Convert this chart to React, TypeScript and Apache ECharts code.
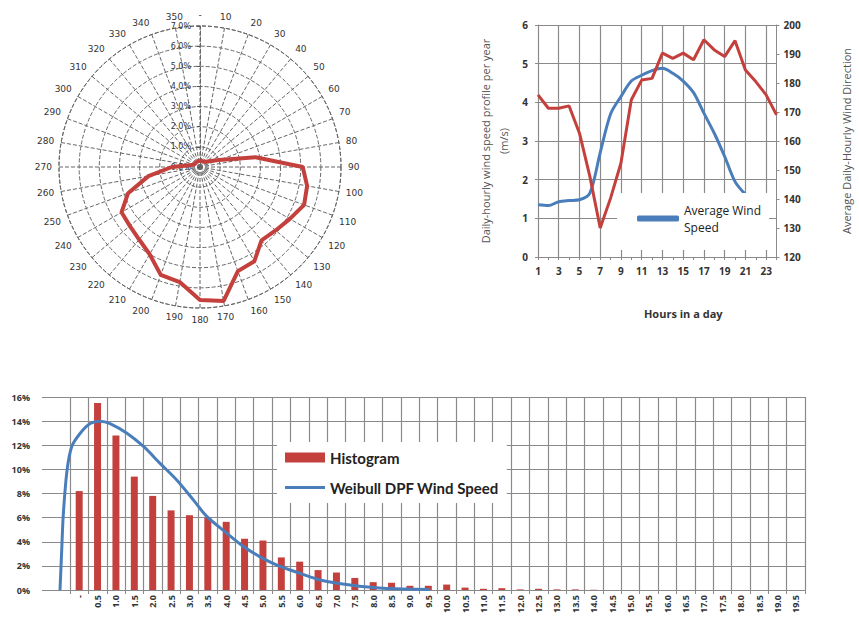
import React, { useEffect, useRef } from 'react';
import * as echarts from 'echarts';

// ---- Wind rose (polar) ----
const windDirections = [0, 10, 20, 30, 40, 50, 60, 70, 80, 90, 100, 110, 120, 130, 140, 150, 160, 170, 180, 190, 200, 210, 220, 230, 240, 250, 260, 270, 280, 290, 300, 310, 320, 330, 340, 350];
const windDirectionFrequency = [0.3, 0.3, 0.3, 0.3, 0.35, 0.4, 0.6, 1.0, 2.8, 5.1, 5.4, 5.5, 5.15, 4.9, 4.75, 5.4, 5.5, 6.75, 6.6, 5.8, 5.7, 5.0, 4.7, 4.55, 4.5, 3.8, 2.6, 1.4, 0.5, 0.35, 0.3, 0.3, 0.3, 0.3, 0.3, 0.3];

// ---- Daily-hourly profile ----
const hours = ['1', '2', '3', '4', '5', '6', '7', '8', '9', '10', '11', '12', '13', '14', '15', '16', '17', '18', '19', '20', '21', '22', '23', '24'];
const avgWindSpeed = [1.35, 1.33, 1.43, 1.46, 1.48, 1.65, 2.7, 3.7, 4.15, 4.55, 4.7, 4.82, 4.88, 4.75, 4.55, 4.25, 3.72, 3.2, 2.6, 1.95, 1.62];
const avgWindDirection = [175.9, 171.3, 171.3, 172.1, 162.7, 147.8, 130, 140.3, 152.4, 174.2, 181, 181.6, 190.3, 188.5, 190.3, 188, 194.9, 191.4, 189.1, 194.6, 184.5, 180.5, 175.9, 169];

// ---- Histogram + Weibull ----
const histCategories = ['-', '0.5', '1.0', '1.5', '2.0', '2.5', '3.0', '3.5', '4.0', '4.5', '5.0', '5.5', '6.0', '6.5', '7.0', '7.5', '8.0', '8.5', '9.0', '9.5', '10.0', '10.5', '11.0', '11.5', '12.0', '12.5', '13.0', '13.5', '14.0', '14.5', '15.0', '15.5', '16.0', '16.5', '17.0', '17.5', '18.0', '18.5', '19.0', '19.5'];
const histogramFrequency = [8.2, 15.5, 12.8, 9.4, 7.8, 6.6, 6.2, 6.0, 5.65, 4.25, 4.1, 2.7, 2.35, 1.65, 1.45, 1.0, 0.65, 0.6, 0.35, 0.35, 0.45, 0.2, 0.1, 0.15, 0.05, 0.1, 0.05, 0.05, 0.02, 0, 0, 0, 0, 0, 0, 0, 0, 0, 0, 0];
const weibullSpeed = [-0.51, -0.46, -0.42, -0.32, -0.19, 0.04, 0.31, 0.58, 0.85, 1.31, 1.76, 2.21, 2.67, 3.12, 3.48, 4.03, 4.48, 4.93, 5.39, 6.02, 6.56, 7.38, 8.28, 9.55];
const weibullDensity = [0, 3.6, 6.3, 9.9, 11.9, 13.0, 13.8, 14.0, 13.8, 13.0, 11.9, 10.5, 9.1, 7.45, 6.1, 4.7, 3.6, 2.75, 2.07, 1.38, 0.83, 0.41, 0.14, 0.05];

const RED = '#c4403c';
const BLUE = '#4a7ebb';
const GRID = '#8a8a8a';

export default function App() {
  const ref = useRef<HTMLDivElement>(null);
  useEffect(() => {
    const chart = echarts.init(ref.current!, null, { renderer: 'svg' });
    const roseData = windDirections.map((d, i) => [windDirectionFrequency[i], d]);
    roseData.push([windDirectionFrequency[0], 360]);
    const option: any = {
      animation: false,
      backgroundColor: '#fff',
      textStyle: { fontFamily: 'Open Sans' },
      polar: { center: [200, 167], radius: 141 },
      angleAxis: {
        type: 'value', min: 0, max: 360, interval: 10, startAngle: 90, clockwise: true,
        axisLine: { lineStyle: { color: '#666', type: 'dashed', width: 1 } },
        axisTick: { show: false },
        splitLine: { show: true, lineStyle: { color: '#666', type: 'dashed', width: 1 } },
        axisLabel: {
          fontFamily: 'DejaVu Sans', fontSize: 9, color: '#333', margin: 7,
          formatter: (v: number) => (v === 0 ? '-' : v === 360 ? '' : String(v)),
        },
      },
      radiusAxis: {
        min: 0, max: 7, interval: 1,
        axisLine: { lineStyle: { color: '#666', type: 'dashed', width: 1 } },
        axisTick: { show: true, length: 3, lineStyle: { color: '#555' } },
        axisLabel: { fontFamily: 'DejaVu Sans', fontSize: 8, color: '#333', margin: 9, formatter: (v: number) => v.toFixed(1) + '%' },
        splitLine: { show: true, lineStyle: { color: '#666', type: 'dashed', width: 1 } },
      },
      grid: [
        { left: 538, top: 25, width: 238.5, height: 232 },
        { left: 42, top: 397, width: 763, height: 193 },
        { left: 70, top: 397, width: 735, height: 193 },
      ],
      xAxis: [
        {
          gridIndex: 0, type: 'category', data: hours, boundaryGap: false,
          name: 'Hours in a day', nameLocation: 'middle', nameGap: 51,
          nameTextStyle: { fontSize: 11, fontWeight: 'bold', color: '#333', padding: [0, 0, 0, 52] },
          axisLine: { lineStyle: { color: GRID } },
          axisTick: { show: true, interval: 0, length: 3, lineStyle: { color: GRID } },
          axisLabel: { interval: 1, fontSize: 10, fontWeight: 'bold', color: '#333', margin: 9 },
          splitLine: { show: true, interval: 1, lineStyle: { color: GRID, width: 1.2 } },
        },
        { gridIndex: 1, type: 'value', min: -1, max: 19.75, show: false },
        {
          gridIndex: 2, type: 'category', data: histCategories, boundaryGap: true,
          axisLine: { lineStyle: { color: GRID } },
          axisTick: { show: true, length: 4, lineStyle: { color: GRID } },
          axisLabel: { interval: 0, rotate: 90, fontSize: 9, fontWeight: 'bold', color: '#333', margin: 5 },
          splitLine: { show: true, interval: 0, lineStyle: { color: GRID, width: 1.2 } },
        },
      ],
      yAxis: [
        {
          gridIndex: 0, type: 'value', min: 0, max: 6, interval: 1, position: 'left',
          name: 'Daily-hourly wind speed profile per year\n(m/s)', nameLocation: 'middle', nameGap: 26, nameRotate: 90,
          nameTextStyle: { fontSize: 11, color: '#555', lineHeight: 18 },
          axisLine: { show: true, lineStyle: { color: GRID } },
          axisTick: { show: true, length: 3, lineStyle: { color: GRID } },
          axisLabel: { fontSize: 10, fontWeight: 'bold', color: '#333', margin: 10 },
          splitLine: { show: true, lineStyle: { color: GRID, width: 1.2 } },
        },
        {
          gridIndex: 0, type: 'value', min: 120, max: 200, interval: 10, position: 'right',
          name: 'Average Daily-Hourly Wind Direction', nameLocation: 'middle', nameGap: 64, nameRotate: 90,
          nameTextStyle: { fontSize: 11, color: '#555' },
          axisLine: { show: true, lineStyle: { color: GRID } },
          axisTick: { show: true, length: 3, lineStyle: { color: GRID } },
          axisLabel: { fontSize: 10, fontWeight: 'bold', color: '#333', margin: 7 },
          splitLine: { show: false },
        },
        {
          gridIndex: 1, type: 'value', min: 0, max: 16, interval: 2,
          axisLine: { show: false }, axisTick: { show: false },
          axisLabel: { fontSize: 9, fontWeight: 'bold', color: '#333', margin: 12, formatter: (v: number) => v + '%' },
          splitLine: { show: true, lineStyle: { color: GRID, width: 1.2 } },
        },
        { gridIndex: 2, type: 'value', min: 0, max: 16, interval: 2, show: false },
      ],
      legend: [
        {
          data: [{ name: 'Average Wind Speed', icon: 'roundRect' }],
          left: 617, top: 193, orient: 'vertical',
          backgroundColor: '#fff', padding: [0, 8, 6, 20],
          itemWidth: 42, itemHeight: 6, itemGap: 0,
          formatter: () => 'Average Wind\nSpeed',
          textStyle: { fontSize: 12, lineHeight: 17, color: '#222', padding: [17, 0, 0, 0] },
        },
        {
          data: [
            { name: 'Histogram', icon: 'rect' },
            { name: 'Weibull DPF Wind Speed', icon: 'path://M0,0 L40,0 L40,3.2 L0,3.2 Z' },
          ],
          left: 277, top: 442, orient: 'vertical',
          backgroundColor: '#fff', padding: [8, 8, 8, 8],
          itemWidth: 40, itemHeight: 10, itemGap: 15,
          textStyle: { fontFamily: 'Lato', fontSize: 15, fontWeight: 'bold', color: '#222' },
        },
      ],
      series: [
        {
          name: 'Wind Direction Frequency', type: 'line', coordinateSystem: 'polar', polarIndex: 0,
          data: roseData, symbol: 'none', lineStyle: { color: RED, width: 4 }, itemStyle: { color: RED },
        },
        {
          name: 'Average Wind Speed', type: 'line', xAxisIndex: 0, yAxisIndex: 0, data: avgWindSpeed,
          symbol: 'none', smooth: 0.3, lineStyle: { color: BLUE, width: 3 }, itemStyle: { color: BLUE },
        },
        {
          name: 'Average Wind Direction', type: 'line', xAxisIndex: 0, yAxisIndex: 1, data: avgWindDirection,
          symbol: 'none', lineStyle: { color: RED, width: 3 }, itemStyle: { color: RED },
        },
        {
          name: 'Histogram', type: 'bar', xAxisIndex: 2, yAxisIndex: 3, data: histogramFrequency,
          barWidth: 7, itemStyle: { color: RED },
        },
        {
          name: 'Weibull DPF Wind Speed', type: 'line', xAxisIndex: 1, yAxisIndex: 2,
          data: weibullSpeed.map((s, i) => [s, weibullDensity[i]]),
          symbol: 'none', smooth: 0.3, lineStyle: { color: BLUE, width: 3 }, itemStyle: { color: BLUE },
        },
      ],
    };
    chart.setOption(option);
    return () => chart.dispose();
  }, []);
  return <div ref={ref} style={{ position: 'fixed', left: 0, top: 0, width: 859, height: 632, background: '#fff' }} />;
}
